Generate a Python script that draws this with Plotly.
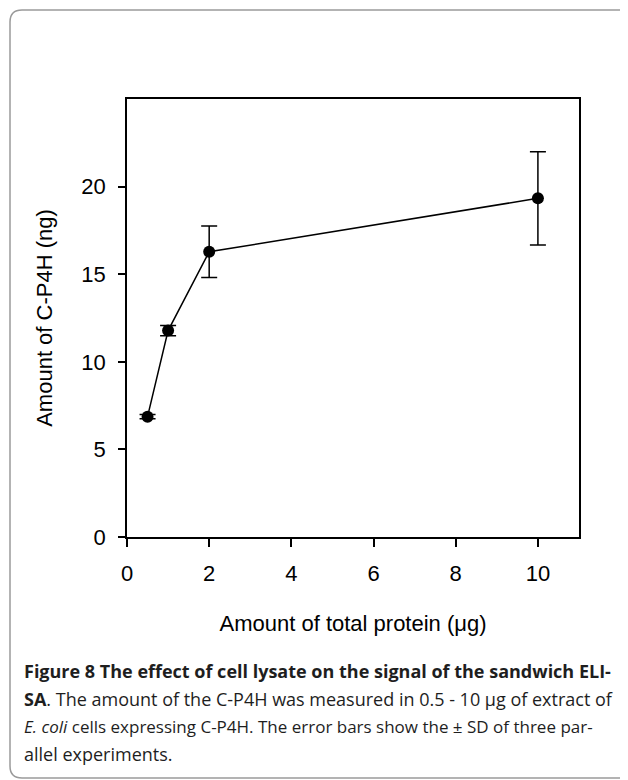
import plotly.graph_objects as go

# ---- data ----
protein_ug = [0.5, 1, 2, 10]
c_p4h_ng = [6.87, 11.78, 16.28, 19.33]
sd_ng = [0.12, 0.29, 1.47, 2.66]
x_ticks = [0, 2, 4, 6, 8, 10]
y_ticks = [0, 5, 10, 15, 20]

caption_lines = [
    "<b>Figure 8 The effect of cell lysate on the signal of the sandwich ELI-</b>",
    "<b>SA</b>. The amount of the C-P4H was measured in 0.5 - 10 μg of extract of",
    "<i>E. coli</i> cells expressing C-P4H. The error bars show the ± SD of three par-",
    "allel experiments.",
]

# the page body adds an 8px margin, so the figure is drawn 8px smaller
OFF = 8
W, H = 628 - OFF, 780 - OFF
L, R, T, B = 127 - OFF, 579 - OFF, 99 - OFF, 537 - OFF  # plot area in figure pixels
PW, PH = R - L, B - T


def px(x):
    return (x - OFF - L) / PW


def py(y):
    return (B - (y - OFF)) / PH


fig = go.Figure()
fig.add_trace(go.Scatter(
    x=protein_ug, y=c_p4h_ng,
    mode="lines+markers",
    line=dict(color="black", width=1.5),
    marker=dict(color="black", size=12, symbol="circle"),
    error_y=dict(type="data", array=sd_ng, visible=True,
                 color="black", thickness=1.5, width=8),
    showlegend=False,
))

axis_font = dict(family="Liberation Sans, Arial, sans-serif", size=22, color="black")

fig.update_xaxes(
    range=[0, 11], tickvals=x_ticks, ticks="outside", ticklen=8, tickwidth=1.5,
    tickcolor="black", showline=True, linecolor="black", linewidth=1.5, mirror=True,
    showgrid=False, zeroline=False, tickfont=axis_font, ticklabelstandoff=8,
    title=dict(text="Amount of total protein (μg)", font=axis_font, standoff=30),
)
fig.update_yaxes(
    range=[0, 25], tickvals=y_ticks, ticks="outside", ticklen=7, tickwidth=1.5,
    tickcolor="black", showline=True, linecolor="black", linewidth=1.5, mirror=True,
    showgrid=False, zeroline=False, tickfont=axis_font, ticklabelstandoff=8,
    title=dict(text="Amount of C-P4H (ng)", font=axis_font, standoff=23),
)

# rounded outer frame (page pixel coordinates)
x0, x1, y0, y1, r = 10, 633, 10, 778, 12
path = (
    f"M {px(x0 + r)},{py(y0)} L {px(x1 - r)},{py(y0)} "
    f"Q {px(x1)},{py(y0)} {px(x1)},{py(y0 + r)} "
    f"L {px(x1)},{py(y1 - r)} Q {px(x1)},{py(y1)} {px(x1 - r)},{py(y1)} "
    f"L {px(x0 + r)},{py(y1)} Q {px(x0)},{py(y1)} {px(x0)},{py(y1 - r)} "
    f"L {px(x0)},{py(y0 + r)} Q {px(x0)},{py(y0)} {px(x0 + r)},{py(y0)} Z"
)
fig.add_shape(type="path", path=path, xref="paper", yref="paper",
              line=dict(color="#9a9a9a", width=1.5), fillcolor="rgba(0,0,0,0)",
              layer="below")

baselines = [677, 705, 732, 760]
cap_sizes = [18, 18, 17, 18]  # justified-looking lines of similar width
for txt, bl, sz in zip(caption_lines, baselines, cap_sizes):
    fig.add_annotation(text=txt, xref="paper", yref="paper",
                       x=px(22), y=py(bl - 6), xanchor="left", yanchor="middle",
                       showarrow=False, align="left",
                       font=dict(family="Open Sans, Noto Sans, sans-serif",
                                 size=sz, color="#1e1e1e"))

fig.update_layout(
    width=W, height=H,
    margin=dict(l=L, r=W - R, t=T, b=H - B, pad=0),
    paper_bgcolor="white", plot_bgcolor="white",
)

fig.write_html("out.html")
